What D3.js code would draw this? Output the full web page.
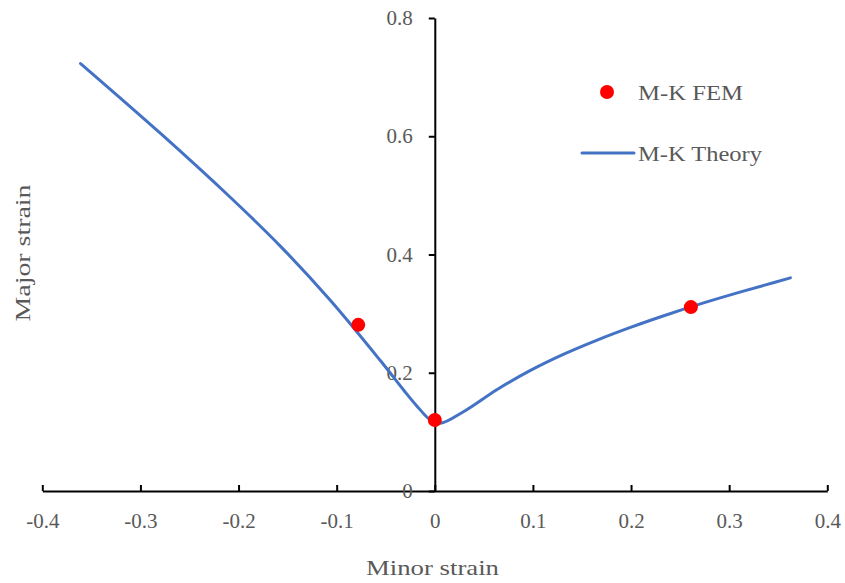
<!DOCTYPE html>
<html>
<head>
<meta charset="utf-8">
<script src="https://cdn.jsdelivr.net/npm/d3@7"></script>
<style>
  html, body { margin: 0; padding: 0; background: #fff; }
  svg { display: block; }
  text { font-family: "Liberation Serif", "Times New Roman", serif; fill: #595959; }
</style>
</head>
<body>
<svg id="chart" width="845" height="583"></svg>
<script>
// ---- data ----
const xTicks = [-0.4, -0.3, -0.2, -0.1, 0, 0.1, 0.2, 0.3, 0.4];
const yTicks = [0, 0.2, 0.4, 0.6, 0.8];
const xTickLabels = ["-0.4", "-0.3", "-0.2", "-0.1", "0", "0.1", "0.2", "0.3", "0.4"];
const yTickLabels = ["0", "0.2", "0.4", "0.6", "0.8"];

const femMinor = [-0.078, 0.0, 0.261];
const femMajor = [0.281, 0.120, 0.311];

const theoryMinor = [-0.361, -0.2795, -0.2082, -0.1572, -0.1063, -0.0553, -0.0316, -0.0179, -0.0044, 0.0058, 0.0296, 0.0636, 0.0975, 0.1315, 0.1655, 0.1994, 0.2334, 0.2674, 0.3013, 0.3353, 0.3624];
const theoryMajor = [0.723, 0.6048, 0.4964, 0.4138, 0.3222, 0.2202, 0.1704, 0.143, 0.120, 0.1145, 0.1345, 0.1718, 0.2040, 0.2315, 0.2553, 0.2767, 0.2964, 0.3148, 0.3317, 0.3477, 0.3605];

const xTitle = "Minor strain";
const yTitle = "Major strain";
const legendLabels = ["M-K FEM", "M-K Theory"];

// ---- chart ----
const svg = d3.select("#chart");
const x = d3.scaleLinear().domain([-0.4, 0.4]).range([42.3, 827.3]);
const y = d3.scaleLinear().domain([0, 0.8]).range([491, 18]);

// x axis (ticks pointing up)
const xAxis = d3.axisBottom(x)
  .tickValues(xTicks)
  .tickFormat((d, i) => xTickLabels[i])
  .tickSizeInner(-6)
  .tickSizeOuter(0)
  .tickPadding(22);
const gx = svg.append("g").attr("transform", `translate(0,${y(0)})`).call(xAxis);
gx.select(".domain").attr("stroke", "#000").attr("stroke-width", 2);
gx.selectAll(".tick line").attr("stroke", "#000").attr("stroke-width", 2);
gx.selectAll(".tick text").attr("font-size", 21).attr("font-family", "Liberation Serif").attr("fill", "#595959");

// y axis at x = 0
const yAxis = d3.axisLeft(y)
  .tickValues(yTicks)
  .tickFormat((d, i) => yTickLabels[i])
  .tickSizeInner(6)
  .tickSizeOuter(0)
  .tickPadding(16);
const gy = svg.append("g").attr("transform", `translate(${x(0)},0)`).call(yAxis);
gy.select(".domain").attr("stroke", "#000").attr("stroke-width", 2);
gy.selectAll(".tick line").attr("stroke", "#000").attr("stroke-width", 2);
gy.selectAll(".tick text").attr("font-size", 21).attr("font-family", "Liberation Serif").attr("fill", "#595959");

// theory curve
const theory = theoryMinor.map((d, i) => [d, theoryMajor[i]]);
svg.append("path")
  .datum(theory)
  .attr("fill", "none")
  .attr("stroke", "#4472C4")
  .attr("stroke-width", 3)
  .attr("stroke-linecap", "round")
  .attr("d", d3.line().x(d => x(d[0])).y(d => y(d[1])).curve(d3.curveCatmullRom.alpha(0.5)));

// FEM points
const fem = femMinor.map((d, i) => [d, femMajor[i]]);
svg.append("g").selectAll("circle")
  .data(fem)
  .join("circle")
  .attr("cx", d => x(d[0]))
  .attr("cy", d => y(d[1]))
  .attr("r", 7)
  .attr("fill", "#FF0000");

// axis titles
svg.append("text")
  .attr("x", 432.5).attr("y", 575)
  .attr("text-anchor", "middle")
  .attr("font-size", 22)
  .attr("textLength", 133).attr("lengthAdjust", "spacingAndGlyphs")
  .text(xTitle);

svg.append("text")
  .attr("transform", "translate(30,253) rotate(-90)")
  .attr("text-anchor", "middle")
  .attr("font-size", 22)
  .attr("textLength", 137).attr("lengthAdjust", "spacingAndGlyphs")
  .text(yTitle);

// legend
const leg = svg.append("g");
leg.append("circle").attr("cx", 607).attr("cy", 92).attr("r", 7).attr("fill", "#FF0000");
leg.append("text").attr("x", 638).attr("y", 100).attr("font-size", 21)
  .attr("textLength", 105).attr("lengthAdjust", "spacingAndGlyphs").text(legendLabels[0]);
leg.append("line").attr("x1", 582).attr("x2", 634).attr("y1", 153).attr("y2", 153)
  .attr("stroke", "#4472C4").attr("stroke-width", 3).attr("stroke-linecap", "round");
leg.append("text").attr("x", 638).attr("y", 161).attr("font-size", 21)
  .attr("textLength", 124).attr("lengthAdjust", "spacingAndGlyphs").text(legendLabels[1]);
</script>
</body>
</html>
